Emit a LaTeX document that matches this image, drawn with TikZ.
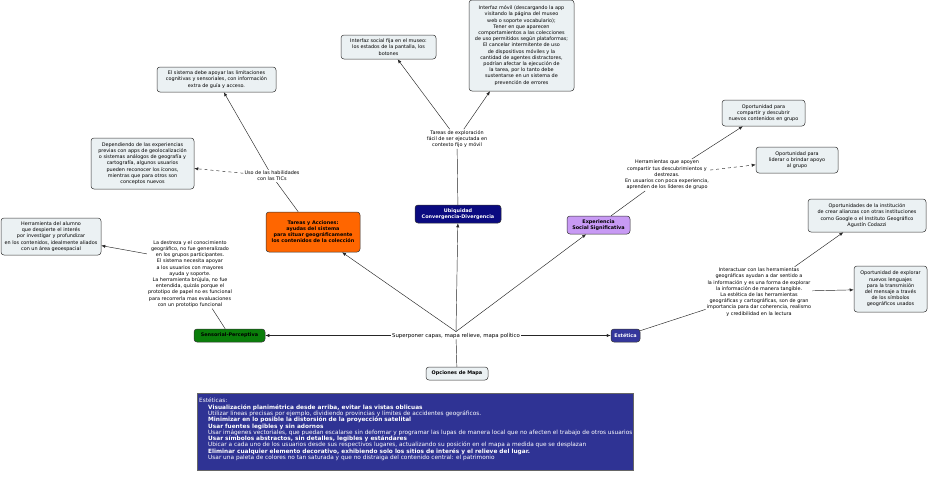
\documentclass[tikz,border=0pt]{standalone}
\usepackage{fontspec}
\setmainfont{DejaVu Sans}
\definecolor{mapOrange}{HTML}{FF6600}
\definecolor{mapNavy}{HTML}{0A0A80}
\definecolor{mapLilac}{HTML}{C89AF4}
\definecolor{mapGreen}{HTML}{0A7E0A}
\definecolor{mapSlate}{HTML}{35379C}
\definecolor{mapLeaf}{HTML}{EBF1F3}
\definecolor{mapBox}{HTML}{2F3394}
\usetikzlibrary{arrows.meta}

\begin{document}
\begin{tikzpicture}[x=1pt, y=-1pt,
  leaf/.style={draw=black!80, fill=mapLeaf, rounded corners=3pt, align=center,
    inner sep=1.5pt, line width=0.5pt, font=\fontsize{4.9}{6.2}\selectfont},
  concept/.style={draw=black!80, rounded corners=3pt, align=center, inner sep=1pt,
    line width=0.5pt, font=\fontsize{4.9}{6}\selectfont\bfseries},
  linkph/.style={align=center, inner sep=1pt, font=\fontsize{4.9}{6.2}\selectfont},
  ln/.style={line width=0.45pt, black!85},
  arr/.style={ln, -{Latex[length=4pt,width=3.2pt]}}]

  \useasboundingbox[fill=white] (0,0) rectangle (929,482);

  % Central root and its linking phrase
  \node[concept, fill=mapLeaf, minimum width=62, minimum height=13] (opciones) at (457,373.5)
    {Opciones de Mapa};
  \node[linkph, font=\fontsize{5.4}{6.4}\selectfont] (sup) at (456,335.5)
    {Superponer capas, mapa relieve, mapa político};

  % Five concept nodes
  \node[concept, fill=mapOrange, minimum width=94, minimum height=40] (tareas) at (313,232)
    {Tareas y Acciones:\\ ayudas del sistema\\ para situar geográficamente\\ los contenidos de la colección};
  \node[concept, fill=mapNavy, text=white, minimum width=86, minimum height=18] (ubiq) at (458,214)
    {Ubiquidad\\ Convergencia-Divergencia};
  \node[concept, fill=mapLilac, minimum width=63, minimum height=18] (exper) at (598.5,225)
    {Experiencia\\ Social Significativa};
  \node[concept, fill=mapGreen, minimum width=71, minimum height=13] (senso) at (229.5,335.5)
    {Sensorial-Perceptiva};
  \node[concept, fill=mapSlate, text=white, minimum width=29, minimum height=13] (estet) at (625.5,335.5)
    {Estética};

  % Linking phrases
  \node[linkph] (uso) at (272,176) {Uso de las habilidades\\ con las TICs};
  \node[linkph] (explor) at (457,139)
    {Tareas de exploración\\ fácil de ser ejecutada en\\ contexto fijo y móvil};
  \node[linkph] (herr) at (667,175)
    {Herramientas que apoyen\\ compartir tus descubrimientos y\\ destrezas.\\
     En usuarios con poca experiencia,\\ aprenden de los líderes de grupo};
  \node[linkph] (inter) at (759,292)
    {Interactuar con las herramientas\\ geográficas ayudan a dar sentido a\\
     la información y es una forma de explorar\\ la información de manera tangible.\\
     La estética de las herramientas\\ geográficas y cartográficas, son de gran\\
     importancia para dar coherencia, realismo\\ y credibilidad en la lectura};
  \node[linkph] (destreza) at (190,274)
    {La destreza y el conocimiento\\ geográfico, no fue generalizado\\ en los grupos participantes.\\
     El sistema necesita apoyar\\ a los usuarios con mayores\\ ayuda y soporte.\\
     La herramienta brújula, no fue\\ entendida, quizás porque el\\
     prototipo de papel no es funcional\\ para recorrerla mas evaluaciones\\ con un prototipo funcional};

  % Leaf boxes
  \node[leaf, minimum width=95, minimum height=24] (social) at (388.5,47)
    {Interfaz social fija en el museo:\\ los estados de la pantalla, los\\ botones};
  \node[leaf, minimum width=105, minimum height=91] (movil) at (521.5,45.5)
    {Interfaz móvil (descargando la app\\ visitando la página del museo\\ web o soporte vocabulario);\\
     Tener en que aparecen\\ comportamientos a las colecciones\\ de uso permitidos según plataformas;\\
     El cancelar intermitente de uso\\ de dispositivos móviles y la\\ cantidad de agentes distractores,\\
     podrían afectar la ejecución de\\ la tarea, por lo tanto debe\\ sustentarse en un sistema de\\
     prevención de errores};
  \node[leaf, minimum width=119, minimum height=25] (apoyar) at (216.5,79.5)
    {El sistema debe apoyar las limitaciones\\ cognitivas y sensoriales, con información\\ extra de guía y acceso.};
  \node[leaf, minimum width=103, minimum height=51] (depend) at (142.5,163.5)
    {Dependiendo de las experiencias\\ previas con apps de geolocalización\\ o sistemas análogos de geografía y\\
     cartografía, algunos usuarios\\ pueden reconocer los íconos,\\ mientras que para otros son\\ conceptos nuevos};
  \node[leaf, minimum width=100, minimum height=37] (alumno) at (51,236.5)
    {Herramienta del alumno\\ que despierte el interés\\ por investigar y profundizar\\
     en los contenidos, idealmente aliados\\ con un área geoespacial};
  \node[leaf, minimum width=83, minimum height=26] (compartir) at (763.5,113)
    {Oportunidad para\\ compartir y descubrir\\ nuevos contenidos en grupo};
  \node[leaf, minimum width=82, minimum height=26] (liderar) at (797,160)
    {Oportunidad para\\ liderar o brindar apoyo\\ al grupo};
  \node[leaf, minimum width=118, minimum height=33] (institucion) at (867,215.5)
    {Oportunidades de la institución\\ de crear alianzas con otras instituciones\\
     como Google o el Instituto Geográfico\\ Agustín Codazzi};
  \node[leaf, minimum width=73, minimum height=46] (explorar) at (890.5,289)
    {Oportunidad de explorar\\ nuevos lenguajes\\ para la transmisión\\ del mensaje a través\\
     de los símbolos\\ geográficos usados};

  % Bottom summary box
  \node[draw=black!60, fill=mapBox, minimum width=436, minimum height=77] (estBox) at (415,431.5) {};
  \node[anchor=north west, align=left, text=white, inner sep=0pt,
    font=\fontsize{5.8}{6.3}\selectfont] (estText) at (199,398)
    {Estéticas:\\
     \hspace*{9pt}\textbf{Visualización planimétrica desde arriba, evitar las vistas oblicuas}\\
     \hspace*{9pt}Utilizar líneas precisas por ejemplo, dividiendo provincias y límites de accidentes geográficos.\\
     \hspace*{9pt}\textbf{Minimizar en lo posible la distorsión de la proyección satelital}\\
     \hspace*{9pt}\textbf{Usar fuentes legibles y sin adornos}\\
     \hspace*{9pt}Usar imágenes vectoriales, que puedan escalarse sin deformar y programar las lupas de manera local que no afecten el trabajo de otros usuarios\\
     \hspace*{9pt}\textbf{Usar símbolos abstractos, sin detalles, legibles y estándares}\\
     \hspace*{9pt}Ubicar a cada uno de los usuarios desde sus respectivos lugares, actualizando su posición en el mapa a medida que se desplazan\\
     \hspace*{9pt}\textbf{Eliminar cualquier elemento decorativo, exhibiendo solo los sitios de interés y el relieve del lugar.}\\
     \hspace*{9pt}Usar una paleta de colores no tan saturada y que no distraiga del contenido central: el patrimonio};

  % Root to concepts
  \draw[ln] (opciones) -- (sup);
  \draw[arr] (sup.north) -- (tareas);
  \draw[arr] (sup.north) -- (ubiq);
  \draw[arr] (sup.north) -- (exper);
  \draw[arr] (sup) -- (senso);
  \draw[arr] (sup) -- (estet);

  % Concepts to linking phrases to leaves
  \draw[ln] (tareas) -- (uso);
  \draw[arr] (uso) -- (apoyar);
  \draw[arr, dashed] (uso) -- (depend);
  \draw[ln] (ubiq) -- (explor);
  \draw[arr] (explor) -- (social);
  \draw[arr] (explor) -- (movil);
  \draw[ln] (exper) -- (herr);
  \draw[arr] (herr) -- (compartir);
  \draw[arr, dashed] (herr) -- (liderar);
  \draw[ln] (estet) -- (inter);
  \draw[arr] (inter) -- (institucion);
  \draw[arr] (inter) -- (explorar);
  \draw[ln] (senso) -- (destreza);
  \draw[arr] (destreza.155) -- (alumno);
\end{tikzpicture}
\end{document}
